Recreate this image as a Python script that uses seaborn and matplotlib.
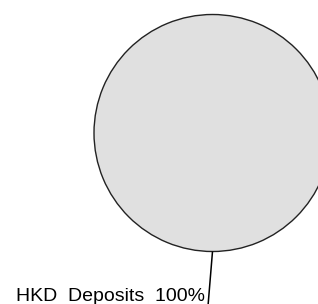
import numpy as np
import matplotlib
matplotlib.use("Agg")
import matplotlib.pyplot as plt
import seaborn as sns

# data
categories = ["HKD Deposits"]
values = [100]
pct_labels = ["100%"]

sns.set_theme(style="white")
plt.rcParams['font.family'] = ['Liberation Sans', 'DejaVu Sans']

W, H = 318, 304
fig = plt.figure(figsize=(W / 100, H / 100), dpi=100)
ax = fig.add_axes([0, 0, 1, 1])

cx, cy, r = 212.5, H - 133.0, 118.5
wedges, _ = ax.pie(values, colors=['#e0e0e0'], center=(cx, cy), radius=r,
                   startangle=270, counterclock=True, frame=True,
                   wedgeprops=dict(edgecolor='#222222', linewidth=1.0))
ax.set_xlim(0, W)
ax.set_ylim(0, H)
ax.set_aspect('equal')
ax.axis('off')

# leader line and label
ang = np.deg2rad(270)
ax_x, ax_y = cx + r * np.cos(ang), cy + r * np.sin(ang)
ax.plot([ax_x, ax_x - 4.5], [ax_y, -2], color='black', lw=1.1,
        solid_capstyle='butt', clip_on=False)
label = "  ".join(categories[0].split()) + "  " + pct_labels[0]
ax.text(205.5, H - 300.7, label,
        ha='right', va='baseline', fontsize=14.0, color='black')

fig.savefig("out.png", dpi=100)
